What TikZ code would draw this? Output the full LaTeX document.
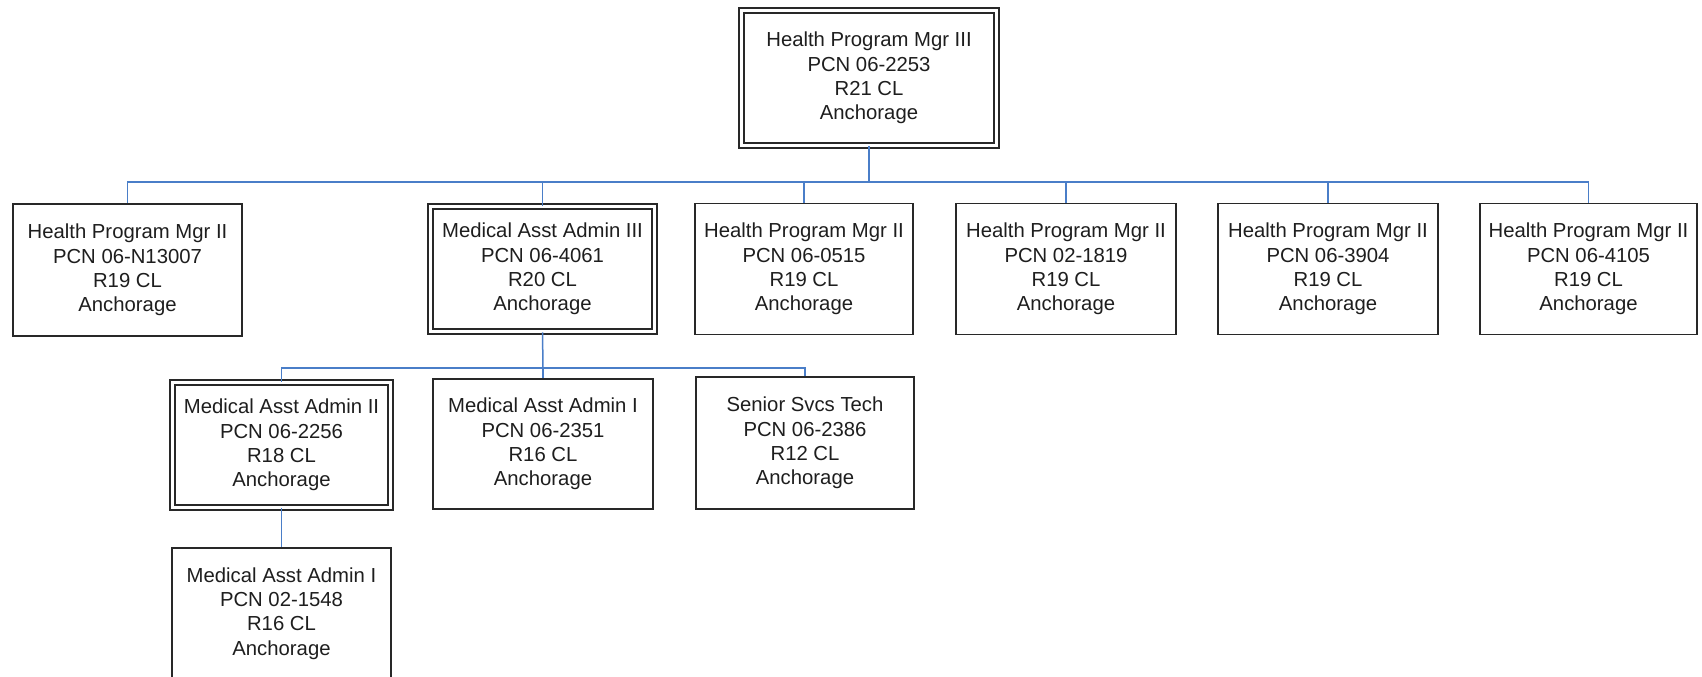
\documentclass[tikz,border=0pt]{standalone}
\usepackage{fontspec}
\setmainfont{Liberation Sans}
\definecolor{linkblue}{RGB}{74,126,200}
\definecolor{boxline}{RGB}{40,40,40}
\definecolor{txt}{RGB}{30,30,30}
\tikzset{
  x=0.5pt, y=-0.5pt,
  box/.style={draw=boxline, line width=0.9pt, rectangle, inner sep=0pt, align=center,
    text=txt, font=\fontsize{10.15}{12.1}\selectfont},
  dbox/.style={box, line width=0.8pt, double=white, double distance=1.6pt},
  link/.style={draw=linkblue, line width=0.75pt}
}
\begin{document}
\begin{tikzpicture}
\useasboundingbox (0,0) rectangle (1702,676);
\clip (0,0) rectangle (1702,676);
\fill[white] (0,0) rectangle (1702,676);
% top
\node[dbox, minimum width=127.5pt, minimum height=67.5pt] (top) at (869,78)
  {Health Program Mgr III\\PCN 06-2253\\R21 CL\\Anchorage};
% second row
\node[box, minimum width=114.5pt, minimum height=66pt] (h1) at (127.5,270)
  {Health Program Mgr II\\PCN 06-N13007\\R19 CL\\Anchorage};
\node[dbox, minimum width=112pt, minimum height=62.5pt] (m3) at (542.5,269)
  {Medical Asst Admin III\\PCN 06-4061\\R20 CL\\Anchorage};
\node[box, minimum width=109pt, minimum height=65.5pt] (h2) at (804,269)
  {Health Program Mgr II\\PCN 06-0515\\R19 CL\\Anchorage};
\node[box, minimum width=110pt, minimum height=65.5pt] (h3) at (1066,269)
  {Health Program Mgr II\\PCN 02-1819\\R19 CL\\Anchorage};
\node[box, minimum width=110pt, minimum height=65.5pt] (h4) at (1328,269)
  {Health Program Mgr II\\PCN 06-3904\\R19 CL\\Anchorage};
\node[box, minimum width=108.5pt, minimum height=65.5pt] (h5) at (1588.5,269)
  {Health Program Mgr II\\PCN 06-4105\\R19 CL\\Anchorage};
% third row
\node[dbox, minimum width=109pt, minimum height=62.5pt] (m2) at (281.5,445)
  {Medical Asst Admin II\\PCN 06-2256\\R18 CL\\Anchorage};
\node[box, minimum width=110pt, minimum height=65pt] (m1) at (543,444)
  {Medical Asst Admin I\\PCN 06-2351\\R16 CL\\Anchorage};
\node[box, minimum width=109pt, minimum height=66pt] (st) at (805,443)
  {Senior Svcs Tech\\PCN 06-2386\\R12 CL\\Anchorage};
% bottom
\node[box, minimum width=109.5pt, minimum height=65.5pt] (m1b) at (281.5,613.5)
  {Medical Asst Admin I\\PCN 02-1548\\R16 CL\\Anchorage};
% connectors
\coordinate (bus1) at (869,182);
\coordinate (bus2) at (543,368);
\draw[link] (top.south) -- (bus1);
\foreach \c in {h1,m3,h2,h3,h4,h5} \draw[link] (bus1) -| (\c.north);
\draw[link] (m3.south) -- (bus2);
\foreach \c in {m2,m1,st} \draw[link] (bus2) -| (\c.north);
\draw[link] (m2.south) -- (m1b.north);
\end{tikzpicture}
\end{document}
